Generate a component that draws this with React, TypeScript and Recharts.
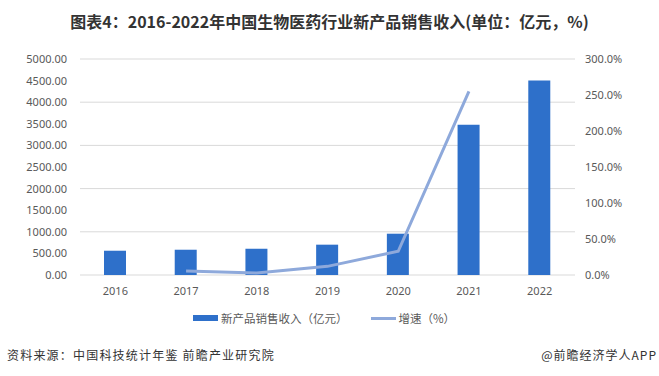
import React from 'react';
import { ComposedChart, Bar, Line, XAxis, YAxis, CartesianGrid } from 'recharts';

const years = ['2016', '2017', '2018', '2019', '2020', '2021', '2022'];
const revenue = [562, 585, 610, 702, 956, 3480, 4500];
const growth: (number | null)[] = [null, 5.5, 2.8, 12.0, 33.0, 255.0, null];
const leftTicks = [0, 500, 1000, 1500, 2000, 2500, 3000, 3500, 4000, 4500, 5000];
const rightTicks = [0, 50, 100, 150, 200, 250, 300];

const data = years.map((year, i) => ({ year, revenue: revenue[i], growth: growth[i] }));

const BAR_COLOR = '#2E70CA';
const LINE_COLOR = '#8EA9DB';
const tickStyle = { fill: '#595959', fontSize: 11, fontFamily: '"Noto Sans", sans-serif' };
const cjk = '"Noto Sans CJK SC", "Noto Sans", sans-serif';

export default function App() {
    return (
        <div style={{ position: 'absolute', left: 0, top: 0, width: 659, height: 376, background: '#fff', fontFamily: cjk }}>
            <div
                style={{
                    position: 'absolute', left: 0, top: 8, width: 659, textAlign: 'center',
                    fontSize: 16, fontWeight: 700, color: '#333', lineHeight: '26px',
                }}
            >
                图表4：2016-2022年中国生物医药行业新产品销售收入(单位：亿元，%)
            </div>
            <ComposedChart
                width={659}
                height={376}
                data={data}
                margin={{ top: 59, right: 14, left: 10, bottom: 71 }}
            >
                <CartesianGrid yAxisId="left" vertical={false} stroke="#D9D9D9" />
                <XAxis
                    dataKey="year"
                    axisLine={false}
                    tickLine={false}
                    tickMargin={6}
                    height={30}
                    tick={tickStyle}
                />
                <YAxis
                    yAxisId="left"
                    width={70}
                    domain={[0, 5000]}
                    ticks={leftTicks}
                    axisLine={false}
                    tickLine={false}
                    tickMargin={7}
                    tick={tickStyle}
                    tickFormatter={(v: number) => v.toFixed(2)}
                />
                <YAxis
                    yAxisId="right"
                    orientation="right"
                    width={70}
                    domain={[0, 300]}
                    ticks={rightTicks}
                    axisLine={false}
                    tickLine={false}
                    tickMargin={4}
                    tick={tickStyle}
                    tickFormatter={(v: number) => `${v.toFixed(1)}%`}
                />
                <Bar yAxisId="left" dataKey="revenue" fill={BAR_COLOR} barSize={22} isAnimationActive={false} />
                <Line
                    yAxisId="right"
                    dataKey="growth"
                    stroke={LINE_COLOR}
                    strokeWidth={3}
                    dot={false}
                    activeDot={false}
                    type="linear"
                    isAnimationActive={false}
                />
            </ComposedChart>
            {/* legend */}
            <div style={{ position: 'absolute', left: 193, top: 309, height: 18, display: 'flex', alignItems: 'center', fontSize: 11.5, color: '#595959' }}>
                <span style={{ display: 'inline-block', width: 25, height: 6, background: BAR_COLOR, marginRight: 3 }} />
                <span>新产品销售收入（亿元）</span>
                <span style={{ display: 'inline-block', width: 25, height: 3, background: LINE_COLOR, marginLeft: 23, marginRight: 3 }} />
                <span>增速（%）</span>
            </div>
            <div style={{ position: 'absolute', left: 7, top: 346, fontSize: 12, letterSpacing: 1.2, color: '#333', lineHeight: '18px' }}>
                资料来源：中国科技统计年鉴 前瞻产业研究院
            </div>
            <div style={{ position: 'absolute', right: 2, top: 346, fontSize: 12, letterSpacing: 1, color: '#333', lineHeight: '18px' }}>
                @前瞻经济学人APP
            </div>
        </div>
    );
}
